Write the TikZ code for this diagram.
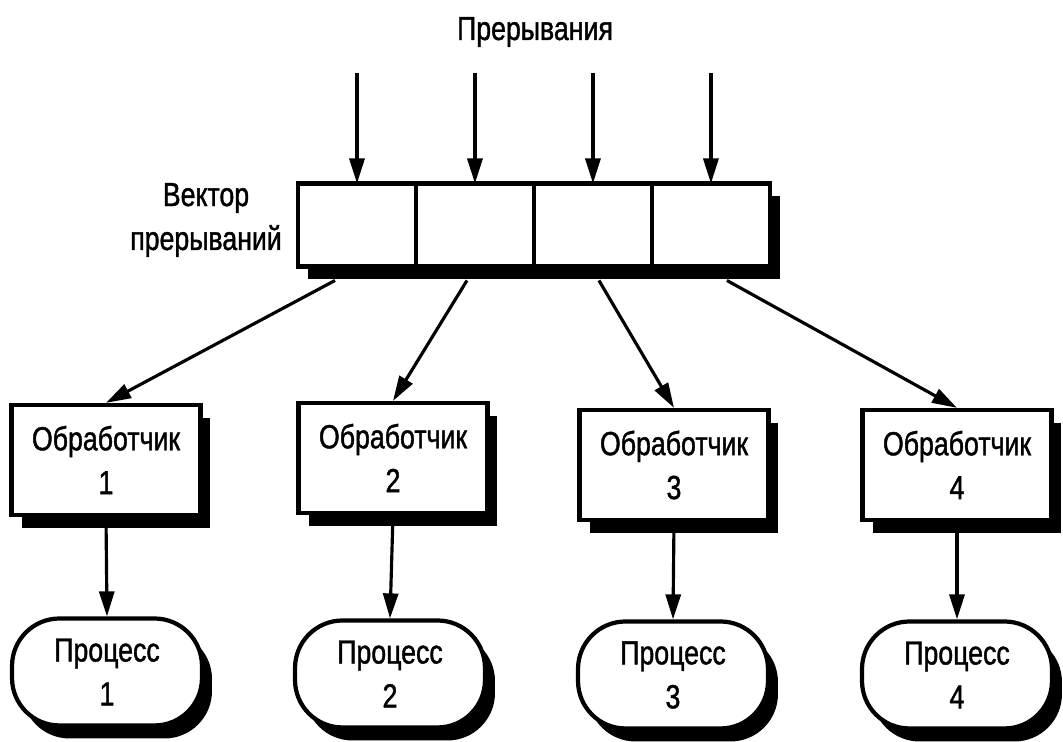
\documentclass[tikz,border=0pt]{standalone}
\usepackage{fontspec}
\setmainfont{Liberation Sans}[FakeStretch=0.8,FakeBold=1.2]
\usetikzlibrary{positioning,calc,arrows.meta,shadows}

\begin{document}
\begin{tikzpicture}[x=0.02cm,y=0.02cm,
        font=\fontsize{19}{25}\selectfont,
        boxshadow/.style={drop shadow={shadow xshift=0.2cm,shadow yshift=-0.26cm,fill=black,opacity=1}},
        cell/.style={draw,line width=2.4pt,fill=white,minimum width=2.36cm,minimum height=1.66cm,inner sep=0pt,outer sep=0pt,boxshadow},
        handler/.style={draw,line width=2.4pt,fill=white,minimum width=3.78cm,minimum height=2.2cm,align=center,boxshadow},
        proc/.style={draw,line width=2.4pt,fill=white,rounded corners=0.95cm,minimum width=3.8cm,minimum height=2.14cm,align=center,boxshadow},
        arr/.style={line width=1.8pt,-{Triangle[length=0.5cm,width=0.3cm]}}]
    \useasboundingbox (0,0) rectangle (1063,742);

    % interrupt vector
    \node[anchor=base] (title) at (535,702) {Прерывания};
    \node[cell] (c1) at (357,517) {};
    \node[cell,right=0pt of c1] (c2) {};
    \node[cell,right=0pt of c2] (c3) {};
    \node[cell,right=0pt of c3] (c4) {};
    \node[align=center] (veclab) at (206,522) {Вектор\\прерываний};

    % incoming interrupts
    \foreach \i in {1,...,4}{
            \coordinate (in\i) at ($(c\i.north)+(0,110)$);
            \draw[arr] (in\i) -- (c\i.north);
        }

    % handlers
    \node[handler] (h1) at (106,282) {Обработчик\\1};
    \node[handler] (h2) at (393,284) {Обработчик\\2};
    \node[handler] (h3) at (674,277) {Обработчик\\3};
    \node[handler] (h4) at (957,277) {Обработчик\\4};

    \draw[arr] ($(c1.south)+(-22,-14)$) -- (h1.north);
    \draw[arr] ($(c2.south)+(-8,-14)$) -- (h2.north);
    \draw[arr] ($(c3.south)+(6,-14)$) -- (h3.north);
    \draw[arr] ($(c4.south)+(16,-14)$) -- (h4.north);

    % processes
    \node[proc] (p1) at (107,70) {Процесс\\1};
    \node[proc] (p2) at (390,68) {Процесс\\2};
    \node[proc] (p3) at (673,67) {Процесс\\3};
    \node[proc] (p4) at (957,67) {Процесс\\4};

    \foreach \i in {1,...,4}
    \draw[arr] (h\i.south) -- (p\i.north);
\end{tikzpicture}
\end{document}
